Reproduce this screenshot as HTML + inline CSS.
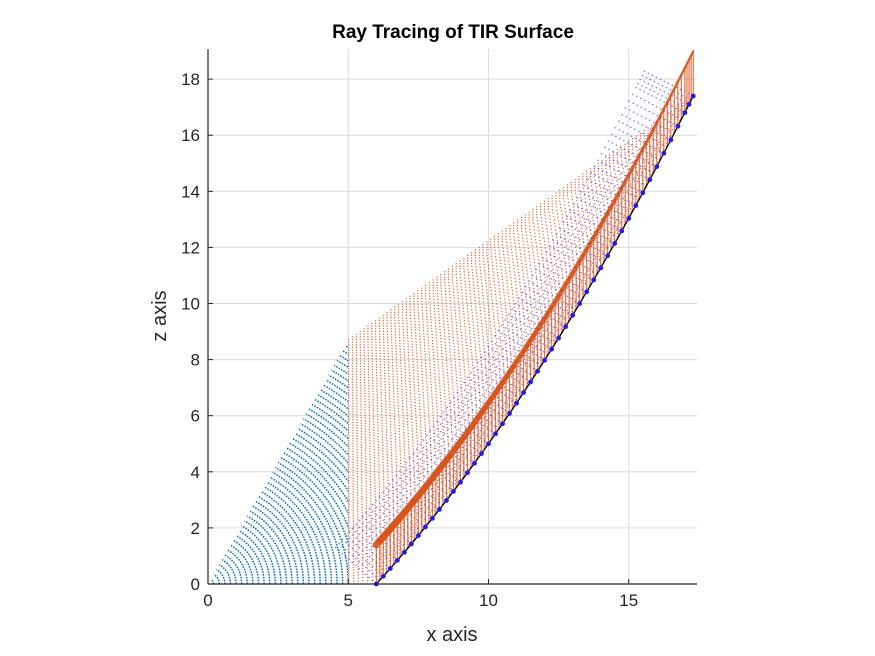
<!DOCTYPE html>
<html><head><meta charset="utf-8"><style>
body{margin:0;background:#fff;}
svg{display:block;font-family:"Liberation Sans",Arial,sans-serif;}
</style></head><body>
<svg id="chart" width="875" height="656">
<rect width="875" height="656" fill="#fff"/>
<g id="grid"></g>
<g id="plot"></g>
<g id="axes"></g>
<text x="453" y="38" text-anchor="middle" font-size="19" font-weight="bold" fill="#000">Ray Tracing of TIR Surface</text>
<text x="452" y="641" text-anchor="middle" font-size="20" fill="#262626">x axis</text>
<text x="166" y="316" text-anchor="middle" font-size="20" fill="#262626" transform="rotate(-90 166 316)">z axis</text>
</svg>
<script>
const xTicks=[0,5,10,15];
const yTicks=[0,2,4,6,8,10,12,14,16,18];
const surfX=[6,6.5,7,7.5,8,8.5,9,9.5,10,10.5,11,11.5,12,12.5,13,13.5,14,14.5,15,15.5,16,16.5,17,17.3];
const surfZ=[0,0.555,1.131,1.726,2.341,2.976,3.630,4.305,4.999,5.714,6.448,7.202,7.975,8.769,9.582,10.416,11.269,12.142,13.035,13.948,14.88,15.833,16.805,17.397];
const lensX=5;
const lensTopZ=8.7;
const sourceAngleDeg=60;
const reflectLen=1.4;
const normalLen=2.0;

const X0=208,Y0=584,S=28.05,XR=697,YT=49;
const sx=v=>X0+v*S, sy=v=>Y0-v*S;
const NS="http://www.w3.org/2000/svg";
function mk(tag,parent,attrs){const e=document.createElementNS(NS,tag);for(const k in attrs)e.setAttribute(k,attrs[k]);parent.appendChild(e);return e;}
const grid=document.getElementById('grid'),plot=document.getElementById('plot'),axes=document.getElementById('axes');

xTicks.forEach(t=>{
  const l=mk('line',grid,{x1:sx(t),x2:sx(t),y1:YT,y2:Y0,stroke:'#dcdcdc','stroke-width':1});
  
  
});
yTicks.forEach(t=>{
  const l=mk('line',grid,{x1:X0,x2:XR,y1:sy(t),y2:sy(t),stroke:'#dcdcdc','stroke-width':1});
  
  
});

const defs=mk('defs',plot,{});
const cp=mk('clipPath',defs,{id:'lensclip'});
mk('rect',cp,{x:X0,y:YT,width:sx(lensX)-X0,height:Y0-YT});
const cp2=mk('clipPath',defs,{id:'axclip'});
mk('rect',cp2,{x:X0,y:YT-10,width:XR-X0+10,height:Y0-YT+10});

const arcs=mk('g',plot,{'clip-path':'url(#lensclip)'});


const ang=sourceAngleDeg*Math.PI/180;
for(let r=0.2;r<=lensX/Math.cos(ang)+0.01;r+=0.2){
  const p=mk('path',arcs,{d:`M${sx(r)} ${sy(0)} A${r*S} ${r*S} 0 0 0 ${sx(r*Math.cos(ang))} ${sy(r*Math.sin(ang))}`,fill:'none',stroke:'#0072BD','stroke-width':1.5,'stroke-dasharray':'1.6 1.2'});
  
  
}

const pts=[];
const SUB=4;
for(let i=0;i<surfX.length-1;i++){
  for(let k=0;k<SUB;k++){const f=k/SUB;pts.push([surfX[i]+(surfX[i+1]-surfX[i])*f,surfZ[i]+(surfZ[i+1]-surfZ[i])*f]);}
}
pts.push([surfX[surfX.length-1],surfZ[surfZ.length-1]]);
const N=pts.length;

const rays=mk('g',plot,{'clip-path':'url(#axclip)'});


pts.forEach((p,i)=>{
  const y0=lensTopZ*i/(N-1);
  const l=mk('line',rays,{x1:sx(lensX),y1:sy(y0),x2:sx(p[0]),y2:sy(p[1]),stroke:'#D95319','stroke-width':1.2,'stroke-dasharray':'1.2 3.5','stroke-opacity':0.9});
  
  
});

const norms=mk('g',plot,{'clip-path':'url(#axclip)'});


pts.forEach((p,i)=>{
  const j=Math.min(i+1,N-1),h=Math.max(i-1,0);
  const dx=pts[j][0]-pts[h][0],dz=pts[j][1]-pts[h][1];
  const L=Math.hypot(dx,dz);
  const nx=-dz/L,nz=dx/L;
  const l=mk('line',norms,{x1:sx(p[0]),y1:sy(p[1]),x2:sx(p[0]+nx*normalLen),y2:sy(p[1]+nz*normalLen),stroke:'#3030ff','stroke-width':1.3,'stroke-dasharray':'1.5 3','stroke-opacity':0.65});
  
  
});

const refl=mk('g',plot,{'clip-path':'url(#axclip)'});


const tops=[];
pts.forEach((p,i)=>{
  const len=reflectLen+0.2*p[1]/17.4;
  const l=mk('line',refl,{x1:sx(p[0]),y1:sy(p[1]),x2:sx(p[0]),y2:sy(p[1]+len),stroke:'#D95319','stroke-width':1.2,'stroke-opacity':0.8});
  
  
  tops.push([sx(p[0]),sy(p[1]+len),p[1]]);
});
for(let i=0;i<tops.length-1;i++){
  const w=7-5*tops[i][2]/17.4;
  const seg=mk('line',refl,{x1:tops[i][0],y1:tops[i][1],x2:tops[i+1][0],y2:tops[i+1][1],stroke:'#D95319','stroke-width':w,'stroke-linecap':'round','stroke-opacity':0.9});
  
  
}

let d='';surfX.forEach((x,i)=>{d+=(i?'L':'M')+sx(x)+' '+sy(surfZ[i]);});
const sp=mk('path',plot,{d:d,fill:'none',stroke:'#000','stroke-width':1.3});


pts.forEach((p,i)=>{
  if(i%2) return;
  const c=mk('circle',plot,{cx:sx(p[0]),cy:sy(p[1]),r:2.4,fill:'#1a1aff'});
  
  
});

const ax=mk('line',axes,{x1:X0,x2:XR,y1:Y0,y2:Y0,stroke:'#262626','stroke-width':1.2});


const ay=mk('line',axes,{x1:X0,x2:X0,y1:YT,y2:Y0,stroke:'#262626','stroke-width':1.2});


xTicks.forEach(t=>{
  mk('line',axes,{x1:sx(t),x2:sx(t),y1:Y0,y2:Y0-5,stroke:'#262626'});
  const tx=mk('text',axes,{x:sx(t),y:Y0+22,'text-anchor':'middle','font-size':17,fill:'#262626'});
  tx.textContent=t;
  
  
});
yTicks.forEach(t=>{
  mk('line',axes,{x1:X0,x2:X0+5,y1:sy(t),y2:sy(t),stroke:'#262626'});
  const tx=mk('text',axes,{x:X0-8,y:sy(t)+6,'text-anchor':'end','font-size':17,fill:'#262626'});
  tx.textContent=t;
  
  
});
</script>
</body></html>
